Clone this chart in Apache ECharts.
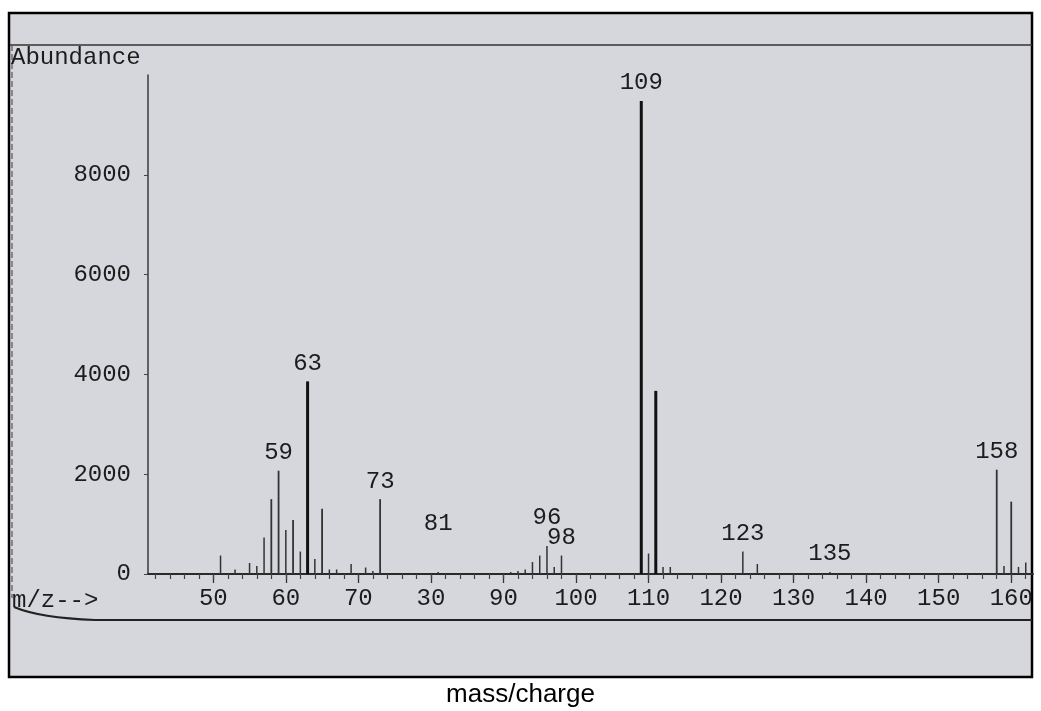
<!DOCTYPE html>
<html>
<head>
<meta charset="utf-8">
<title>Mass spectrum</title>
<script src="https://cdn.jsdelivr.net/npm/echarts@6/dist/echarts.min.js"></script>
<style>
    html, body { margin: 0; padding: 0; background: #ffffff; }
    #chart { width: 1041px; height: 711px; }
</style>
</head>
<body>
<div id="chart"></div>
<script>
    // m/z values and their abundances
    const masses = [51, 53, 55, 56, 57, 58, 59, 60, 61, 62, 63, 64, 65, 66, 67, 69, 71, 72, 73,
        81, 91, 92, 93, 94, 95, 96, 97, 98, 109, 110, 111, 112, 113, 123, 125, 135,
        158, 159, 160, 161, 162];
    const abundances = [370, 90, 220, 160, 730, 1500, 2070, 880, 1080, 450, 3860, 300, 1310, 90, 90, 200, 130, 60, 1500,
        40, 40, 60, 90, 240, 370, 560, 140, 370, 9480, 410, 3670, 140, 140, 450, 200, 40,
        2090, 160, 1450, 140, 230];
    // peaks the instrument printed a number over
    const labeledMasses = [59, 63, 73, 81, 96, 98, 109, 123, 135, 158];

    const xTickValues = [50, 60, 70, 80, 90, 100, 110, 120, 130, 140, 150, 160];
    // the scan prints "30" where 80 should be
    const xTickLabels = ['50', '60', '70', '30', '90', '100', '110', '120', '130', '140', '150', '160'];
    const yTickValues = [0, 2000, 4000, 6000, 8000];

    const monoFont = '"Liberation Mono", "DejaVu Sans Mono", monospace';
    const monoSize = 24;
    const ink = '#1c1c1c';

    // extra lift for labels that sit higher than their peak
    const labelLift = { 81: 30, 96: 10 };

    let minorTicks = [];
    for (let m = 42; m <= 162; m += 2) minorTicks.push(m);

    const chart = echarts.init(document.getElementById('chart'), null, { renderer: 'canvas' });

    const option = {
        animation: false,
        grid: { left: 148, right: 8, top: 75, bottom: 137 },
        xAxis: [
            {
                type: 'value',
                min: 41,
                max: 163,
                splitLine: { show: false },
                axisLine: { lineStyle: { color: '#2a2a2a', width: 2 } },
                axisTick: { customValues: xTickValues, length: 9, lineStyle: { color: '#333', width: 1.3 } },
                axisLabel: {
                    customValues: xTickValues,
                    margin: 13,
                    color: ink,
                    fontFamily: monoFont,
                    fontSize: monoSize,
                    formatter: function (v) {
                        const i = xTickValues.indexOf(v);
                        return i >= 0 ? xTickLabels[i] : '';
                    }
                }
            },
            {
                type: 'value',
                min: 41,
                max: 163,
                position: 'bottom',
                splitLine: { show: false },
                axisLine: { show: false },
                axisLabel: { show: false },
                axisTick: { customValues: minorTicks, length: 5, lineStyle: { color: '#444', width: 1.2 } }
            }
        ],
        yAxis: {
            type: 'value',
            min: 0,
            max: 10000,
            splitLine: { show: false },
            axisLine: { show: true, lineStyle: { color: '#3a3a3a', width: 1.5 } },
            axisTick: { show: true, customValues: yTickValues, length: 4, lineStyle: { color: '#444' } },
            axisLabel: {
                customValues: yTickValues,
                margin: 17,
                color: ink,
                fontFamily: monoFont,
                fontSize: monoSize,
                formatter: function (v) { return String(v); }
            }
        },
        series: [{
            type: 'custom',
            xAxisIndex: 0,
            data: masses.map((m, i) => [m, abundances[i]]),
            renderItem: function (params, api) {
                const m = api.value(0);
                const v = api.value(1);
                const base = api.coord([m, 0]);
                const top = api.coord([m, v]);
                const thick = v > 3000;
                const children = [{
                    type: 'line',
                    shape: { x1: base[0], y1: base[1], x2: top[0], y2: top[1] },
                    style: {
                        stroke: thick ? '#111' : '#333',
                        lineWidth: thick ? 3 : (v > 1000 ? 1.8 : 1.5)
                    }
                }];
                if (labeledMasses.indexOf(m) >= 0) {
                    children.push({
                        type: 'text',
                        x: top[0],
                        y: top[1] - 6 - (labelLift[m] || 0),
                        style: {
                            text: String(m),
                            font: monoSize + 'px ' + monoFont,
                            fill: ink,
                            align: 'center',
                            verticalAlign: 'bottom'
                        }
                    });
                }
                return { type: 'group', children: children };
            }
        }],
        graphic: [
            // scanned page with its black frame
            { type: 'rect', z: -10, shape: { x: 9, y: 13, width: 1023, height: 664 },
              style: { fill: '#d6d7dc', stroke: '#000', lineWidth: 2.5 } },
            { type: 'line', z: 1, shape: { x1: 10, y1: 45, x2: 1032, y2: 45 },
              style: { stroke: '#333', lineWidth: 1.5 } },
            { type: 'line', z: 1, shape: { x1: 12, y1: 45, x2: 12, y2: 598 },
              style: { stroke: '#555', lineWidth: 1.2, lineDash: [6, 3] } },
            { type: 'bezierCurve', z: 1, shape: { x1: 14, y1: 607, cpx1: 40, cpy1: 618, x2: 95, y2: 620 },
              style: { fill: null, stroke: '#222', lineWidth: 2 } },
            { type: 'line', z: 1, shape: { x1: 95, y1: 620, x2: 1032, y2: 620 },
              style: { stroke: '#222', lineWidth: 2 } },
            { type: 'text', z: 1, left: 11, top: 46,
              style: { text: 'Abundance', font: monoSize + 'px ' + monoFont, fill: ink } },
            { type: 'text', z: 1, left: 12, top: 589,
              style: { text: 'm/z-->', font: monoSize + 'px ' + monoFont, fill: ink } },
            { type: 'text', z: 1, left: 'center', top: 682,
              style: { text: 'mass/charge', font: '26px "Liberation Sans", Arial, sans-serif', fill: '#000' } }
        ]
    };

    chart.setOption(option);
</script>
</body>
</html>
